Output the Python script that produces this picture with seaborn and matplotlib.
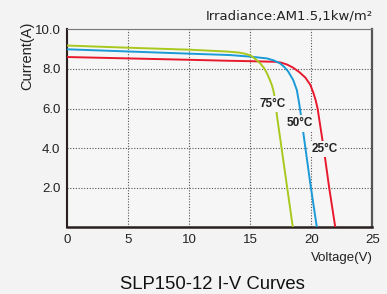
import matplotlib
matplotlib.use("Agg")
import matplotlib.pyplot as plt
import seaborn as sns
import pandas as pd

# I-V data
v25 = [0, 5, 10, 13.3, 15, 17, 17.5, 18, 18.5, 19, 19.5, 19.9, 20.15, 20.35, 20.5, 21.0, 21.45, 21.95]
i25 = [8.6, 8.53, 8.46, 8.41, 8.39, 8.36, 8.32, 8.22, 8.06, 7.84, 7.56, 7.2, 6.8, 6.4, 6.0, 4.0, 2.0, 0]
v50 = [0, 5, 10, 13.3, 15, 16.35, 16.9, 17.43, 17.8, 18.1, 18.5, 18.8, 18.99, 19.13, 19.3, 19.9, 20.44]
i50 = [8.99, 8.88, 8.77, 8.7, 8.62, 8.53, 8.43, 8.28, 8.08, 7.86, 7.44, 6.93, 6.26, 5.67, 4.91, 2.22, 0]
v75 = [0, 5, 10, 13, 14, 14.6, 15.0, 15.4, 15.8, 16.1, 16.35, 16.55, 16.75, 16.9, 17.05, 17.16, 17.57, 18.47]
i75 = [9.18, 9.07, 8.97, 8.88, 8.83, 8.76, 8.68, 8.5, 8.28, 8.05, 7.78, 7.5, 7.19, 6.85, 6.3, 5.67, 3.9, 0]

series_names = ["25°C", "50°C", "75°C"]
label_pos_v = [21.05, 19.07, 16.78]
label_pos_i = [3.95, 5.26, 6.23]
x_ticks = [0, 5, 10, 15, 20, 25]
y_ticks = [2, 4, 6, 8, 10]
colors = ["#e8192c", "#1a9ad6", "#a8c81e"]

frames = []
for name, v, i in zip(series_names, [v25, v50, v75], [i25, i50, i75]):
    frames.append(pd.DataFrame({"Voltage": v, "Current": i, "Temp": name}))
df = pd.concat(frames, ignore_index=True)

sns.set_style("white")
plt.rcParams["font.family"] = ["Liberation Sans", "DejaVu Sans"]

fig = plt.figure(figsize=(3.87, 2.94), dpi=100, facecolor="#f3f3f3")
ax = fig.add_axes([0.1744, 0.2269, 0.9625 - 0.1744, 0.9003 - 0.2269])
ax.set_facecolor("#f6f6f6")

sns.lineplot(data=df, x="Voltage", y="Current", hue="Temp", hue_order=series_names,
             palette=colors, sort=False, estimator=None, linewidth=1.4, legend=False, ax=ax,
             zorder=3)

for name, vx, iy in zip(series_names, label_pos_v, label_pos_i):
    ax.text(vx, iy, name, ha="center", va="center", fontsize=8.5, fontweight="bold",
            color="#222222", zorder=5,
            bbox=dict(boxstyle="square,pad=0.2", fc="#f6f6f6", ec="none"))

ax.set_xlim(0, 25)
ax.set_ylim(0, 10)
ax.set_xticks(x_ticks)
ax.set_yticks(y_ticks)
ax.set_xticklabels([str(t) for t in x_ticks], fontsize=9.5, color="#222222")
ax.set_yticklabels([f"{t:.1f}" for t in y_ticks], fontsize=9.5, color="#222222")
ax.tick_params(axis="both", length=0, pad=5)
ax.grid(True, linestyle=(0, (1, 1.5)), color="#555555", linewidth=0.8, zorder=1)
ax.set_axisbelow(True)

ax.spines["left"].set_color("#2a2020")
ax.spines["left"].set_linewidth(1.5)
ax.spines["bottom"].set_color("#2a2020")
ax.spines["bottom"].set_linewidth(1.8)
ax.spines["right"].set_color("#555555")
ax.spines["right"].set_linewidth(1.6)
ax.spines["top"].set_color("#777777")
ax.spines["top"].set_linewidth(0.8)
ax.spines["top"].set_linestyle((0, (1, 1)))

ax.set_xlabel("")
ax.set_ylabel("")
fig.text(0.9625, 0.122, "Voltage(V)", ha="right", va="center", fontsize=9.5, color="#222222")
fig.text(0.07, 0.81, "Current(A)", ha="center", va="center", fontsize=10.5,
         rotation=90, color="#222222")
fig.text(0.963, 0.945, "Irradiance:AM1.5,1kw/m²", ha="right", va="center", fontsize=9.5,
         family="DejaVu Sans", color="#222222")
fig.text(0.55, 0.031, "SLP150-12 I-V Curves", ha="center", va="center", fontsize=13.3,
         color="#111111")

fig.savefig("out.png", dpi=100, facecolor=fig.get_facecolor())
